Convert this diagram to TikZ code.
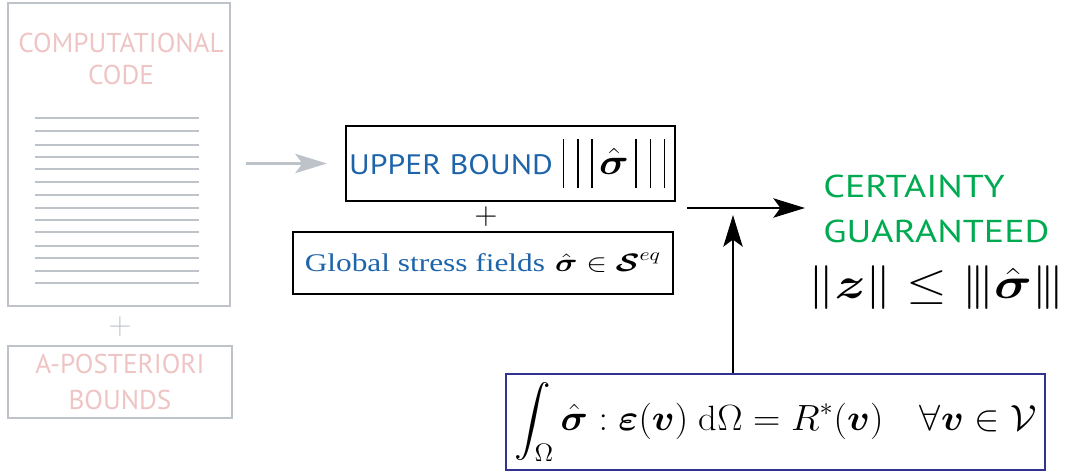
\documentclass[tikz,border=0pt]{standalone}
\usepackage{amsmath,amssymb}
\usepackage{fontspec}
\usepackage{tikz}
\usetikzlibrary{arrows.meta,positioning,calc}
\newfontfamily\labelsans{PT Sans}
\newfontfamily\labelserif{Liberation Serif}
\definecolor{docgray}{RGB}{190,195,202}
\definecolor{docpink}{RGB}{238,196,196}
\definecolor{textblue}{RGB}{30,100,170}
\definecolor{okgreen}{RGB}{0,170,80}
\definecolor{boxblue}{RGB}{50,50,150}
\newcommand{\shat}{\hat{\boldsymbol{\sigma}}}
\newcommand{\widen}[2][1.22]{\scalebox{#1}[1]{#2}}
\newcommand{\tbar}{\mathord{\kern3.2pt\rule[-8pt]{0.8pt}{28pt}\kern3.2pt}}
\begin{document}
\begin{tikzpicture}[
		x=0.02cm, y=-0.02cm,
		faded/.style={draw=docgray, line width=1.3pt, inner sep=0pt, text=docpink, align=center, font=\labelsans\fontsize{15.5}{20}\selectfont},
		mathbox/.style={draw, line width=1.3pt, inner sep=0pt, align=center},
		grayarrow/.style={-{Stealth[length=18pt,width=11pt,inset=4pt]}, docgray, line width=1.6pt},
		blackarrow/.style={-{Stealth[length=18pt,width=11pt,inset=4pt]}, line width=1.2pt}
		]
		
		\useasboundingbox (0,0) rectangle (1066,476);
		
		% left column: faded code sheet
		\node[faded, minimum width=4.44cm, minimum height=6.06cm] (codedoc) at (119,154.5) {};
		\node[text=docpink, align=center, font=\labelsans\fontsize{15.5}{18}\selectfont] (codetitle) at (121,59) {COMPUTATIONAL\\CODE};
		\foreach \yy in {118,131,145,157,169,182,195,208,220,232,246,258,271,283}{
			\draw[docgray, line width=1.5pt] (35,\yy) -- (199,\yy);
		}
		\node[text=docgray, font=\fontsize{18}{18}\selectfont] (plusleft) at (120,327) {+};
		\node[faded, minimum width=4.48cm, minimum height=1.44cm] (bounds) at (120,382) {A-POSTERIORI\\[1pt]BOUNDS};
		
		% middle column
		\node[mathbox, minimum width=6.58cm, minimum height=1.5cm] (upper) at (510.5,163.5) {%
			\widen[1.13]{{\labelsans\fontsize{16}{18}\selectfont\color{textblue}UPPER BOUND}\,%
			{\fontsize{20}{24}\selectfont$\tbar\tbar\tbar\shat\tbar\tbar\tbar$}}};
		\node[font=\fontsize{18}{18}\selectfont] (plusmid) at (486,217) {+};
		\node[mathbox, minimum width=7.6cm, minimum height=1.24cm] (stress) at (483,263) {%
			\widen[1.23]{\fontsize{14.5}{16}\selectfont{\labelserif\color{textblue}Global stress fields} $\shat\in\boldsymbol{\mathcal{S}}^{eq}$}};
		
		% right column
		\node[text=okgreen, align=left, anchor=west, inner sep=0pt, font=\labelsans\fontsize{18}{26}\selectfont] (certain) at (823,209) {%
			\widen[1.2]{CERTAINTY}\\\widen[1.2]{GUARANTEED}};
		\node[anchor=west, inner sep=0pt, font=\fontsize{23}{26}\selectfont] (normz) at (808,288) {%
			\widen[1.2]{$\|\boldsymbol{z}\|\le|\mkern-2mu|\mkern-2mu|\shat|\mkern-2mu|\mkern-2mu|$}};
		
		\node[mathbox, draw=boxblue, minimum width=10.78cm, minimum height=1.92cm, font=\fontsize{20}{24}\selectfont] (weak) at (775.5,422) {%
			\widen[1.04]{$\displaystyle\int_{\Omega}\shat:\boldsymbol{\varepsilon}(\boldsymbol{v})\;\mathrm{d}\Omega=R^{*}(\boldsymbol{v})\quad\forall\boldsymbol{v}\in\mathcal{V}$}};
		
		% Arrows
		\coordinate (merge) at (687,208);
		\coordinate (meet) at (733,215);
		\draw[grayarrow, shorten <=0.3cm, shorten >=0.36cm] (codedoc.east |- upper.west) -- (upper.west);
		\draw[blackarrow, shorten >=0.36cm] (merge) -- (certain.west |- merge);
		\draw[blackarrow] (weak.north -| meet) -- (meet);
		
	\end{tikzpicture}
\end{document}
